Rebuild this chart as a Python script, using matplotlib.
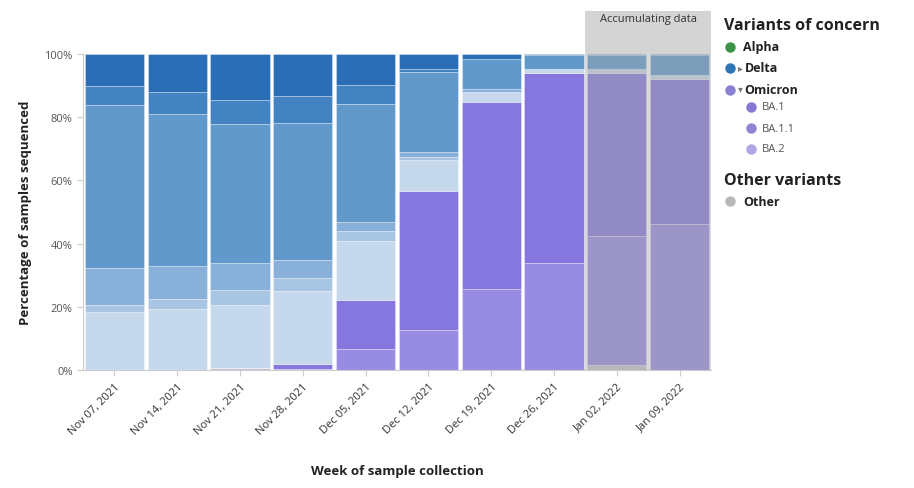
import matplotlib
matplotlib.use("Agg")
import matplotlib.pyplot as plt
from matplotlib.patches import Rectangle
from matplotlib.lines import Line2D
import numpy as np

plt.rcParams['font.family'] = ['Open Sans', 'DejaVu Sans']

weeks = ["Nov 07, 2021", "Nov 14, 2021", "Nov 21, 2021", "Nov 28, 2021", "Dec 05, 2021",
         "Dec 12, 2021", "Dec 19, 2021", "Dec 26, 2021", "Jan 02, 2022", "Jan 09, 2022"]

# stacked shares (%) from bottom to top
other = [0.0, 0.0, 0.5, 0.4, 0.0, 0.0, 0.0, 0.0, 1.6, 0.0]
ba11 = [0.0, 0.0, 0.0, 0.0, 6.8, 12.8, 25.6, 33.9, 40.7, 46.1]
ba1 = [0.0, 0.0, 0.0, 1.4, 15.4, 44.0, 59.1, 60.1, 51.7, 46.0]
delta_1 = [18.3, 19.3, 20.2, 23.1, 18.7, 9.8, 3.4, 1.4, 1.3, 1.3]
delta_2 = [2.4, 3.1, 4.7, 4.3, 3.1, 0.7, 0.0, 0.0, 0.0, 0.0]
delta_3 = [11.6, 10.5, 8.5, 5.7, 2.9, 1.6, 0.8, 0.0, 0.0, 0.0]
delta_4 = [51.6, 48.1, 43.8, 43.3, 37.3, 25.3, 9.5, 4.3, 4.4, 6.3]
delta_5 = [6.1, 7.0, 7.7, 8.5, 6.0, 1.1, 0.0, 0.0, 0.0, 0.0]
delta_6 = [10.0, 12.0, 14.6, 13.3, 9.8, 4.7, 1.6, 0.3, 0.3, 0.3]

layers = [other, ba11, ba1, delta_1, delta_2, delta_3, delta_4, delta_5, delta_6]
colors = ["#c4c4cc", "#978be2", "#8577dd", "#c6d9ec", "#a8c6e3", "#88b0d8",
          "#6199cb", "#4383c2", "#2a6fb6"]

fig = plt.figure(figsize=(9.14, 4.89), dpi=100)
ax = fig.add_axes([83 / 914, 1 - 371 / 489, (711 - 83) / 914, (371 - 55) / 489])

x = np.arange(len(weeks))
bottom = np.zeros(len(weeks))
for vals, c in zip(layers, colors):
    ax.bar(x, vals, bottom=bottom, width=0.94, color=c, edgecolor=(1, 1, 1, 0.45),
           linewidth=0.5, zorder=2)
    bottom += np.array(vals)

# accumulating-data shading
ax.add_patch(Rectangle((7.5, 0), 2, 100, facecolor="#a5a5a5", alpha=0.42,
                       edgecolor="none", zorder=3))
ax.add_patch(Rectangle((7.5, 100), 2, 13.6, facecolor="#d4d4d4", edgecolor="none",
                       clip_on=False, zorder=3))
ax.text(8.5, 111.2, "Accumulating data", ha="center", va="center", fontsize=8,
        color="#333333", zorder=4, clip_on=False)

ax.set_xlim(-0.5, 9.5)
ax.set_ylim(0, 100)
ax.set_yticks([0, 20, 40, 60, 80, 100])
ax.set_yticklabels(["0%", "20%", "40%", "60%", "80%", "100%"], fontsize=8, color="#555555")
ax.set_xticks(x)
ax.set_xticklabels(weeks, rotation=45, ha="right", rotation_mode="anchor",
                   fontsize=8, color="#333333")
ax.tick_params(axis="both", length=4, color="#cccccc", width=0.8)
for s in ["top", "right"]:
    ax.spines[s].set_visible(False)
for s in ["left", "bottom"]:
    ax.spines[s].set_color("#cccccc")
    ax.spines[s].set_linewidth(0.8)

ax.set_ylabel("Percentage of samples sequenced", fontsize=9.5, fontweight="bold",
              color="#222222", labelpad=9)
fig.text(397 / 914, 1 - 472 / 489, "Week of sample collection", ha="center", va="center",
         fontsize=9.5, fontweight="bold", color="#222222")

# legend
def fx(px):
    return px / 914

def fy(py):
    return 1 - py / 489

def dot(px, py, c, size=6.5):
    fig.add_artist(Line2D([fx(px)], [fy(py)], marker="o", markersize=size, color=c,
                          markeredgecolor=c, linestyle="none", transform=fig.transFigure))

fig.text(fx(724), fy(26), "Variants of concern", fontsize=11.5, fontweight="bold",
         color="#222222", va="center")
dot(730, 48, "#3b9446")
fig.text(fx(743), fy(48), "Alpha", fontsize=9, fontweight="bold", color="#222222", va="center")
dot(730, 69, "#2f76b6")
fig.text(fx(738), fy(69), "\u25b8", fontsize=7, color="#777777", va="center")
fig.text(fx(745), fy(69), "Delta", fontsize=9, fontweight="bold", color="#222222", va="center")
dot(730, 91, "#8a80d2")
fig.text(fx(738), fy(90), "\u25be", fontsize=7, color="#777777", va="center")
fig.text(fx(744), fy(91), "Omicron", fontsize=9, fontweight="bold", color="#222222", va="center")
for name, py, c in [("BA.1", 108, "#8577d2"), ("BA.1.1", 129, "#9085d4"), ("BA.2", 150, "#b0a6e4")]:
    dot(751, py, c)
    fig.text(fx(762), fy(py), name, fontsize=8, color="#555555", va="center")
fig.text(fx(724), fy(181), "Other variants", fontsize=11.5, fontweight="bold",
         color="#222222", va="center")
dot(730, 202, "#b8b8b8")
fig.text(fx(743), fy(202), "Other", fontsize=9, fontweight="bold", color="#222222", va="center")

fig.savefig("out.png", dpi=100)
